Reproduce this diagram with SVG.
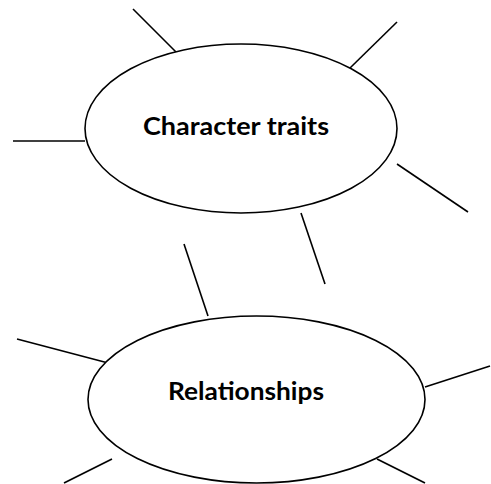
<svg xmlns="http://www.w3.org/2000/svg" width="491" height="484" viewBox="0 0 491 484">
<style>
.bg{fill:#ffffff}
.node ellipse{fill:#ffffff;stroke:#000000;stroke-width:1.6}
.node text{font-family:Lato,"Open Sans","Liberation Sans",sans-serif;font-weight:bold;font-size:24px;fill:#000000;text-anchor:middle}
.links line{stroke:#000000;stroke-width:1.6;fill:none}
</style>
<rect class="bg" x="0" y="0" width="491" height="484"/>
<g id="connectors" class="links">
<line x1="133" y1="9" x2="181" y2="57"/>
<line x1="397" y1="22" x2="350" y2="68"/>
<line x1="13" y1="141" x2="85" y2="141"/>
<line x1="397" y1="164" x2="468" y2="212"/>
<line x1="301" y1="213" x2="325" y2="284"/>
<line x1="184" y1="244" x2="208" y2="316"/>
<line x1="17" y1="339" x2="112" y2="364"/>
<line x1="490" y1="366" x2="425" y2="387"/>
<line x1="112" y1="459" x2="64" y2="483"/>
<line x1="377" y1="459" x2="425" y2="483"/>
</g>
<g id="character-traits" class="node">
<ellipse cx="241" cy="128.5" rx="156" ry="84.5"/>
<text x="236" y="134.5" textLength="186" lengthAdjust="spacingAndGlyphs">Character traits</text>
</g>
<g id="relationships" class="node">
<ellipse cx="256.5" cy="399.5" rx="168.5" ry="83.5"/>
<text x="246" y="399.5" textLength="156" lengthAdjust="spacingAndGlyphs">Relationships</text>
</g>
</svg>
